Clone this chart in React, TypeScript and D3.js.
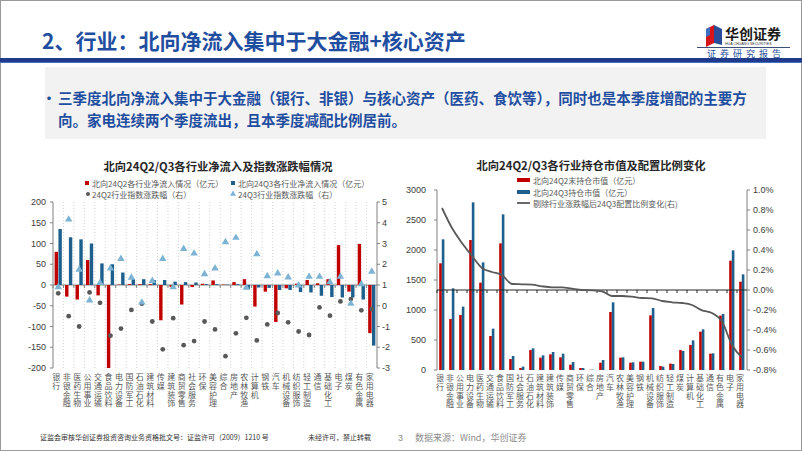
import React from "react";
import * as d3 from "d3";

// ---------- Left chart data ----------
const flowCats = ["银行","非银金融","医药生物","公用事业","交通运输","食品饮料","电力设备","国防军工","石油石化","建筑材料","传媒","建筑装饰","商贸零售","社会服务","环保","美容护理","综合","房地产","农林牧渔","计算机","钢铁","汽车","机械设备","纺织服饰","轻工制造","通信","基础化工","电子","煤炭","有色金属","家用电器"];
const flowQ2 = [80,-28,-35,60,-25,-200,1,2,2,2,-85,-5,-47,-5,3,11,1,7,14,-52,-16,-89,-8,3,12,4,14,96,-16,99,-116];
const flowQ3 = [135,115,110,100,52,50,30,14,14,12,12,8,7,6,2,2,1,2,-10,-6,-7,-12,-12,-17,-18,-26,-29,-30,-30,-35,-146];
const idxQ2 = [0.6,-0.5,-1.0,0.64,0.14,-1.44,-1.1,-0.2,0.1,-0.76,-2.1,-0.6,-1.9,-1.7,-0.76,-1.14,-2.43,-1.33,-0.58,-1.67,-0.9,-0.35,-0.8,-1.24,-1.41,-0.08,-0.48,0.21,0.32,-0.22,-0.16];
const idxQ3 = [0.9,4.16,1.74,0.26,1.1,1.8,2.26,1.36,0.16,1.2,2.26,0.9,2.74,2.52,1.53,1.8,3.07,3.28,0.88,2.49,1.43,1.56,1.37,0.98,1.4,1.4,1.14,1.4,0.1,1.04,1.65];
const flowLeftTicks = [200,150,100,50,0,-50,-100,-150,-200];
const flowRightTicks = [5,4,3,2,1,0,-1,-2,-3];

// ---------- Right chart data ----------
const holdCats = ["银行","非银金融","公用事业","电力设备","医药生物","交通运输","食品饮料","国防军工","社会服务","石油石化","建筑材料","建筑装饰","传媒","商贸零售","环保","综合","房地产","汽车","农林牧渔","美容护理","钢铁","机械设备","纺织服饰","轻工制造","煤炭","计算机","基础化工","通信","有色金属","电子","家用电器"];
const holdQ2 = [1778,850,917,2167,1456,567,2111,183,33,333,206,261,211,89,33,5,122,967,206,122,139,911,67,106,333,417,639,272,906,1822,1472];
const holdQ3 = [2178,1361,1056,2794,1794,689,2594,233,56,361,244,300,272,133,33,6,167,1128,211,128,139,1033,56,100,317,494,678,278,933,1994,1594];
const allocChange = [0.82,0.62,0.47,0.34,0.22,0.18,0.15,0.06,0.057,0.054,0.037,0.027,0.027,0.013,0.0,-0.003,-0.013,-0.06,-0.06,-0.067,-0.08,-0.083,-0.11,-0.123,-0.13,-0.15,-0.203,-0.23,-0.316,-0.55,-0.676];
const holdLeftTicks = [0,500,1000,1500,2000,2500,3000];
const holdRightTicks = [1.0,0.8,0.6,0.4,0.2,0.0,-0.2,-0.4,-0.6,-0.8];

const RED = "#c00000";
const BLUE = "#1e5f8e";
const GRAY = "#595959";
const TRI = "#7db4d3";
const TITLE_BLUE = "#1f4ea0";
const CJK = "'Noto Sans CJK SC', sans-serif";
const NUM = "'Liberation Sans', Arial, sans-serif";

function VLabel({ x, y, text }: { x: number; y: number; text: string }) {
  return (
    <text x={x - 2} y={y} fontSize={8} fill={GRAY} fontFamily={CJK} letterSpacing={0.8}
      style={{ writingMode: "vertical-rl" as any }}>{text}</text>
  );
}

export default function App() {
  // Left chart scales
  const x1 = d3.scaleBand<string>().domain(flowCats).range([53, 377]);
  const y1 = d3.scaleLinear().domain([-200, 200]).range([368, 202]);
  const y1r = d3.scaleLinear().domain([-3, 5]).range([368, 202]);
  const bw1 = x1.bandwidth();
  const tri = d3.symbol().type(d3.symbolTriangle).size(24)() as string;

  // Right chart scales
  const x2 = d3.scaleBand<string>().domain(holdCats).range([437, 747]);
  const y2 = d3.scaleLinear().domain([0, 3000]).range([370, 190]);
  const y2r = d3.scaleLinear().domain([-0.8, 1.0]).range([370, 190]);
  const bw2 = x2.bandwidth();
  const line = d3.line<number>()
    .x((_, i) => (x2(holdCats[i]) as number) + bw2 / 2)
    .y((d) => y2r(d))
    .curve(d3.curveMonotoneX);

  return (
    <svg width={802} height={451} style={{ position: "absolute", left: 0, top: 0, background: "#fff" }}
      fontFamily={CJK}>
      <rect x={0.5} y={0.5} width={801} height={450} fill="#fff" stroke="#9a9a9a" />
      {/* Header */}
      <text x={42} y={49} fontSize={21} fontWeight={700} fill={TITLE_BLUE}>2、行业：北向净流入集中于大金融+核心资产</text>
      <polygon points="706,29 714,25 714,43 706,47" fill="#d7141a" />
      <polygon points="714,25 722,29 722,45 714,43" fill="#2a4d9b" />
      <polygon points="706,29 710,27 710,35 706,37" fill="#3b6fc2" />
      <text x={725} y={39} fontSize={14} fontWeight={700} fill="#1a1a1a">华创证券</text>
      <text x={725} y={45} fontSize={3.6} fill="#333" fontFamily={NUM}>HUA CHUANG SECURITIES</text>
      <line x1={697} x2={790} y1={47.5} y2={47.5} stroke="#3c4f7a" strokeWidth={1} />
      <text x={785} y={57} fontSize={9} fill="#2a4d9b" textAnchor="end" letterSpacing={4}>证券研究报告</text>
      <rect x={0} y={58} width={802} height={5} fill="#1f3a8a" />
      <rect x={0} y={62} width={802} height={1} fill="#4a6fc0" />
      {/* Text box */}
      <rect x={45} y={67} width={721} height={72} fill="#f2f2f2" />
      <text x={42} y={97} fontSize={14} fontWeight={700} fill={TITLE_BLUE} dominantBaseline="central">•</text>
      <text x={58} y={97} fontSize={14.5} fontWeight={700} fill={TITLE_BLUE} dominantBaseline="central">三季度北向净流入集中于大金融（银行、非银）与核心资产（医药、食饮等），同时也是本季度增配的主要方</text>
      <text x={58} y={119} fontSize={14.5} fontWeight={700} fill={TITLE_BLUE} dominantBaseline="central">向。家电连续两个季度流出，且本季度减配比例居前。</text>

      {/* ---------------- Left chart ---------------- */}
      <text x={218} y={166} textAnchor="middle" fontSize={11.3} fontWeight={700} fill="#262626" dominantBaseline="central">北向24Q2/Q3各行业净流入及指数涨跌幅情况</text>
      <rect x={85} y={181} width={4} height={4} fill={RED} />
      <text x={92} y={183} fontSize={8} fill={GRAY} dominantBaseline="central">北向24Q2各行业净流入情况（亿元）</text>
      <rect x={231} y={181} width={4} height={4} fill={BLUE} />
      <text x={238} y={183} fontSize={8} fill={GRAY} dominantBaseline="central">北向24Q3各行业净流入情况（亿元）</text>
      <circle cx={88} cy={194} r={2} fill={GRAY} />
      <text x={92} y={194} fontSize={8} fill={GRAY} dominantBaseline="central">24Q2行业指数涨跌幅（右）</text>
      <path d={tri} transform="translate(233,194) scale(0.8)" fill={TRI} />
      <text x={238} y={194} fontSize={8} fill={GRAY} dominantBaseline="central">24Q3行业指数涨跌幅（右）</text>

      {flowCats.slice(1).map((c) => (
        <line key={"g" + c} x1={x1(c)} x2={x1(c)} y1={202} y2={368} stroke="#c8c8c8" strokeWidth={0.8} strokeDasharray="1,2" />
      ))}
      {/* axes */}
      <line x1={53} x2={53} y1={202} y2={368} stroke="#808080" />
      {flowLeftTicks.map((t) => (
        <g key={"lt" + t}>
          <line x1={50} x2={53} y1={y1(t)} y2={y1(t)} stroke="#808080" />
          <text x={46} y={y1(t)} textAnchor="end" dominantBaseline="central" fontSize={9} fill="#404040" fontFamily={NUM}>{t}</text>
        </g>
      ))}
      <line x1={377} x2={377} y1={202} y2={368} stroke="#808080" />
      {flowRightTicks.map((t) => (
        <g key={"rt" + t}>
          <line x1={377} x2={380} y1={y1r(t)} y2={y1r(t)} stroke="#808080" />
          <text x={382} y={y1r(t)} dominantBaseline="central" fontSize={9} fill="#404040" fontFamily={NUM}>{t}</text>
        </g>
      ))}
      <line x1={53} x2={377} y1={y1(0)} y2={y1(0)} stroke="#808080" />
      {flowCats.map((c) => (
        <line key={"zt" + c} x1={x1(c)} x2={x1(c)} y1={y1(0)} y2={y1(0) + 3} stroke="#808080" />
      ))}
      {/* bars */}
      {flowCats.map((c, i) => {
        const cx = (x1(c) as number) + bw1 / 2;
        return (
          <g key={"b" + c}>
            <rect x={cx - 3.6} width={3.4} y={Math.min(y1(flowQ2[i]), y1(0))} height={Math.abs(y1(flowQ2[i]) - y1(0))} fill={RED} />
            <rect x={cx + 0.2} width={3.4} y={Math.min(y1(flowQ3[i]), y1(0))} height={Math.abs(y1(flowQ3[i]) - y1(0))} fill={BLUE} />
          </g>
        );
      })}
      {flowCats.map((c, i) => (
        <circle key={"c" + c} cx={(x1(c) as number) + bw1 / 2} cy={y1r(idxQ2[i])} r={2.4} fill={GRAY} />
      ))}
      {flowCats.map((c, i) => (
        <path key={"t" + c} d={tri} transform={`translate(${(x1(c) as number) + bw1 / 2},${y1r(idxQ3[i])})`} fill={TRI} />
      ))}
      {flowCats.map((c) => (
        <VLabel key={"l" + c} x={(x1(c) as number) + bw1 / 2} y={373} text={c} />
      ))}

      {/* ---------------- Right chart ---------------- */}
      <text x={591} y={165} textAnchor="middle" fontSize={11.3} fontWeight={700} fill="#262626" dominantBaseline="central">北向24Q2/Q3各行业持仓市值及配置比例变化</text>
      <rect x={517} y={178} width={13} height={4} fill={RED} />
      <text x={533} y={180} fontSize={8} fill={GRAY} dominantBaseline="central">北向24Q2末持仓市值（亿元）</text>
      <rect x={517} y={190} width={13} height={4} fill={BLUE} />
      <text x={533} y={192} fontSize={8} fill={GRAY} dominantBaseline="central">北向24Q3持仓市值（亿元）</text>
      <line x1={517} x2={530} y1={203} y2={203} stroke={GRAY} strokeWidth={1.8} />
      <text x={533} y={203} fontSize={8} fill={GRAY} dominantBaseline="central">剔除行业涨跌幅后24Q3配置比例变化(右)</text>

      <line x1={437} x2={437} y1={190} y2={370} stroke="#808080" />
      {holdLeftTicks.map((t) => (
        <g key={"hl" + t}>
          <line x1={434} x2={437} y1={y2(t)} y2={y2(t)} stroke="#808080" />
          <text x={426} y={y2(t)} textAnchor="end" dominantBaseline="central" fontSize={9} fill="#404040" fontFamily={NUM}>{t}</text>
        </g>
      ))}
      <line x1={747} x2={747} y1={190} y2={370} stroke="#808080" />
      {holdRightTicks.map((t) => (
        <g key={"hr" + t}>
          <line x1={747} x2={750} y1={y2r(t)} y2={y2r(t)} stroke="#808080" />
          <text x={753} y={y2r(t)} dominantBaseline="central" fontSize={9} fill="#404040" fontFamily={NUM}>{t.toFixed(1) + "%"}</text>
        </g>
      ))}
      {holdCats.map((c, i) => {
        const cx = (x2(c) as number) + bw2 / 2;
        return (
          <g key={"hb" + c}>
            <rect x={cx - 2.8} width={2.6} y={y2(holdQ2[i])} height={y2(0) - y2(holdQ2[i])} fill={RED} />
            <rect x={cx - 0.2} width={2.6} y={y2(holdQ3[i])} height={y2(0) - y2(holdQ3[i])} fill={BLUE} />
          </g>
        );
      })}
      <line x1={437} x2={747} y1={y2r(0)} y2={y2r(0)} stroke="#262626" strokeWidth={1} />
      {holdCats.map((c) => (
        <line key={"ht" + c} x1={x2(c)} x2={x2(c)} y1={y2r(0)} y2={y2r(0) + 3} stroke="#262626" />
      ))}
      <path d={line(allocChange) as string} fill="none" stroke={GRAY} strokeWidth={1.8} />
      {holdCats.map((c) => (
        <VLabel key={"hlb" + c} x={(x2(c) as number) + bw2 / 2} y={374} text={c} />
      ))}

      {/* Footer */}
      <text x={40} y={440} fontSize={7} fill="#333">证监会审核华创证券投资咨询业务资格批文号：证监许可（2009）1210 号</text>
      <text x={308} y={440} fontSize={7} fill="#333">未经许可，禁止转载</text>
      <text x={398} y={441} fontSize={9} fill="#8c8c8c" fontFamily={NUM}>3</text>
      <text x={415} y={441} fontSize={9} fill="#8c8c8c">数据来源：Wind，华创证券</text>
    </svg>
  );
}
